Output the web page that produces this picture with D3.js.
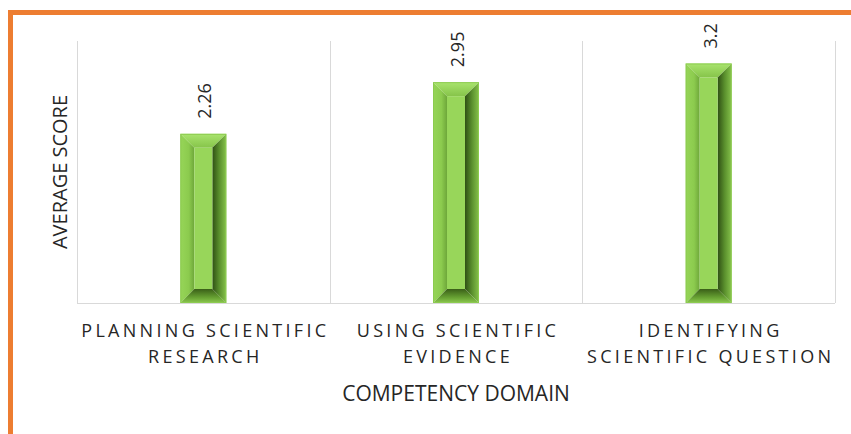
<!DOCTYPE html>
<html>
<head>
<meta charset="utf-8">
<script src="https://cdn.jsdelivr.net/npm/d3@7"></script>
<style>
  body { margin: 0; background: #fff; }
  text { font-family: "Open Sans", sans-serif; fill: #262626; }
</style>
</head>
<body>
<script>
// chart data
var categories = ["Planning Scientific Research", "Using Scientific Evidence", "Identifying Scientific Question"];
var values = [2.26, 2.95, 3.2];
var valueLabels = ["2.26", "2.95", "3.2"];
var labelLines = [
  ["PLANNING SCIENTIFIC", "RESEARCH"],
  ["USING SCIENTIFIC", "EVIDENCE"],
  ["IDENTIFYING", "SCIENTIFIC QUESTION"]
];
var yTitle = "AVERAGE SCORE";
var xTitle = "COMPETENCY DOMAIN";

var w = 851, h = 434;
var plotLeft = 77, plotRight = 835, plotTop = 41, plotBottom = 303;

var svg = d3.select("body").append("svg")
  .attr("width", w)
  .attr("height", h);

// gradients for the bevel sides
var defs = svg.append("defs");
function grad(id, vertical, stops) {
  var g = defs.append("linearGradient").attr("id", id)
    .attr("x1", 0).attr("y1", 0)
    .attr("x2", vertical ? 0 : 1).attr("y2", vertical ? 1 : 0);
  stops.forEach(function(s) {
    g.append("stop").attr("offset", s[0]).attr("stop-color", s[1]);
  });
}
grad("bevL", false, [[0, "#96d558"], [0.6, "#8ccb4e"], [1, "#6ea73a"]]);
grad("bevR", false, [[0, "#2f5014"], [0.5, "#5a902d"], [1, "#86c24b"]]);
grad("bevT", true, [[0, "#a9e46e"], [1, "#86c44a"]]);
grad("bevB", true, [[0, "#3a5f18"], [0.6, "#66a032"], [1, "#8cc850"]]);

// orange frame (top + left)
svg.append("line").attr("x1", 8).attr("x2", w).attr("y1", 12.5).attr("y2", 12.5)
  .attr("stroke", "#ed7d31").attr("stroke-width", 5);
svg.append("line").attr("x1", 10.5).attr("x2", 10.5).attr("y1", 10).attr("y2", h)
  .attr("stroke", "#ed7d31").attr("stroke-width", 5);

var x = d3.scaleBand()
  .domain(categories)
  .range([plotLeft, plotRight])
  .paddingInner(0.818)
  .paddingOuter(0.409);

var y = d3.scaleLinear()
  .domain([0, 3.5])
  .range([plotBottom, plotTop]);

var step = x.step();
var grid = svg.append("g");
d3.range(categories.length + 1).forEach(function(i) {
  var gx = Math.round(plotLeft + i * step) + 0.5;
  grid.append("line")
    .attr("x1", gx).attr("x2", gx)
    .attr("y1", plotTop).attr("y2", plotBottom)
    .attr("stroke", "#d9d9d9").attr("stroke-width", 1);
});
grid.append("line")
  .attr("x1", plotLeft).attr("x2", plotRight)
  .attr("y1", plotBottom + 0.5).attr("y2", plotBottom + 0.5)
  .attr("stroke", "#d9d9d9");

// bevelled bars
var b = 14;
var bars = svg.selectAll(".bar").data(values).enter().append("g").attr("class", "bar");
bars.each(function(d, i) {
  var g = d3.select(this);
  var x0 = x(categories[i]), x1 = x0 + x.bandwidth();
  var y0 = y(d), y1 = y(0);
  function poly(pts, fill) {
    g.append("polygon").attr("points", pts.map(function(p) { return p.join(","); }).join(" ")).attr("fill", fill);
  }
  poly([[x0, y0], [x1, y0], [x1 - b, y0 + b], [x0 + b, y0 + b]], "url(#bevT)");
  poly([[x0, y0], [x0 + b, y0 + b], [x0 + b, y1 - b], [x0, y1]], "url(#bevL)");
  poly([[x1, y0], [x1, y1], [x1 - b, y1 - b], [x1 - b, y0 + b]], "url(#bevR)");
  poly([[x0, y1], [x0 + b, y1 - b], [x1 - b, y1 - b], [x1, y1]], "url(#bevB)");
  g.append("rect").attr("x", x0 + b).attr("y", y0 + b)
    .attr("width", x1 - x0 - 2 * b).attr("height", y1 - y0 - 2 * b)
    .attr("fill", "#98d65a");
  g.append("rect").attr("x", x0 + 0.5).attr("y", y0 + 0.5)
    .attr("width", x1 - x0 - 1).attr("height", y1 - y0 - 1)
    .attr("fill", "none").attr("stroke", "#8ccb50").attr("stroke-width", 1);
});

// value labels, rotated
svg.selectAll(".val").data(values).enter().append("text")
  .attr("class", "val")
  .attr("transform", function(d, i) {
    return "translate(" + (x(categories[i]) + x.bandwidth() / 2 + 8) + "," + (y(d) - 15) + ") rotate(-90)";
  })
  .attr("text-anchor", "start")
  .style("font-size", "18px")
  .text(function(d, i) { return valueLabels[i]; });

// category labels
labelLines.forEach(function(lines, i) {
  var cx = x(categories[i]) + x.bandwidth() / 2;
  lines.forEach(function(t, j) {
    svg.append("text")
      .attr("x", cx + 2)
      .attr("y", 337 + j * 26)
      .attr("text-anchor", "middle")
      .style("font-size", "18px")
      .style("letter-spacing", "3.3px")
      .text(t);
  });
});

svg.append("text")
  .attr("x", 456).attr("y", 401)
  .attr("text-anchor", "middle")
  .style("font-size", "21px")
  .text(xTitle);

svg.append("text")
  .attr("transform", "translate(67,172) rotate(-90)")
  .attr("text-anchor", "middle")
  .style("font-size", "20px")
  .text(yTitle);
</script>
</body>
</html>
